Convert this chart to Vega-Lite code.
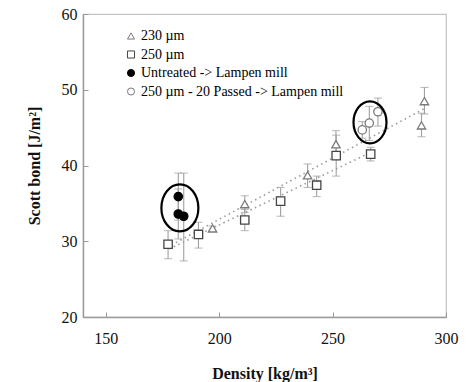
{
  "$schema": "https://vega.github.io/schema/vega-lite/v6.json",
  "width": 363,
  "height": 303,
  "autosize": {"type": "none"},
  "padding": {"left": 83, "top": 14, "right": 27, "bottom": 65},
  "background": "white",
  "config": {
    "font": "Liberation Serif",
    "view": {"stroke": "#c4c4c4", "strokeWidth": 1.2},
    "axis": {
      "labelFont": "Liberation Serif",
      "labelFontSize": 16,
      "labelColor": "#111",
      "titleFont": "Liberation Serif",
      "titleFontSize": 16,
      "titleFontWeight": "bold",
      "titleColor": "#111",
      "domainColor": "#9a9a9a",
      "domainWidth": 1.4,
      "tickColor": "#9a9a9a",
      "tickSize": -5,
      "grid": false
    },
    "axisX": {"labelPadding": 18, "labelFlush": false, "titlePadding": 19, "labelFont": "Liberation Serif"},
    "axisY": {"labelPadding": 11, "titlePadding": 19, "labelFont": "Liberation Serif"},
    "legend": {
      "orient": "none",
      "legendX": 41,
      "legendY": 15,
      "padding": 0,
      "labelFont": "Liberation Serif",
      "labelFontSize": 14,
      "labelColor": "#000",
      "labelOffset": 3,
      "labelLimit": 400,
      "rowPadding": 4.5,
      "symbolSize": 50,
      "symbolStrokeWidth": 1
    }
  },
  "datasets": {
    "points": [
      {"series": "230 µm", "density": 197.1, "bond": 31.7, "lo": 31.4, "hi": 32.0},
      {"series": "230 µm", "density": 211.3, "bond": 34.9, "lo": 33.8, "hi": 36.0},
      {"series": "230 µm", "density": 239.0, "bond": 38.7, "lo": 37.1, "hi": 40.2},
      {"series": "230 µm", "density": 251.5, "bond": 42.8, "lo": 41.0, "hi": 44.6},
      {"series": "230 µm", "density": 290.5, "bond": 48.5, "lo": 46.8, "hi": 50.3},
      {"series": "230 µm", "density": 289.2, "bond": 45.3, "lo": 43.8, "hi": 46.9},
      {"series": "250 µm", "density": 177.5, "bond": 29.6, "lo": 27.7, "hi": 31.4},
      {"series": "250 µm", "density": 190.9, "bond": 30.9, "lo": 29.1, "hi": 32.5},
      {"series": "250 µm", "density": 211.3, "bond": 32.8, "lo": 31.4, "hi": 34.2},
      {"series": "250 µm", "density": 227.1, "bond": 35.3, "lo": 33.3, "hi": 37.1},
      {"series": "250 µm", "density": 243.0, "bond": 37.4, "lo": 35.9, "hi": 38.6},
      {"series": "250 µm", "density": 251.6, "bond": 41.3, "lo": 38.6, "hi": 44.0},
      {"series": "250 µm", "density": 266.8, "bond": 41.5, "lo": 40.6, "hi": 42.4},
      {"series": "Untreated -> Lampen mill", "density": 182.0, "bond": 35.9, "lo": 32.8, "hi": 39.0},
      {"series": "Untreated -> Lampen mill", "density": 182.0, "bond": 33.6, "lo": 30.3, "hi": 36.9},
      {"series": "Untreated -> Lampen mill", "density": 184.4, "bond": 33.3, "lo": 27.4, "hi": 39.0},
      {"series": "250 µm - 20 Passed -> Lampen mill", "density": 263.1, "bond": 44.7, "lo": 43.6, "hi": 45.8},
      {"series": "250 µm - 20 Passed -> Lampen mill", "density": 266.2, "bond": 45.6, "lo": 43.3, "hi": 47.8},
      {"series": "250 µm - 20 Passed -> Lampen mill", "density": 270.0, "bond": 47.1, "lo": 45.2, "hi": 48.9}
    ],
    "fits": [
      {"fit": "230 µm", "density": 179, "bond": 29.5},
      {"fit": "230 µm", "density": 291, "bond": 47.6},
      {"fit": "250 µm", "density": 178, "bond": 29.0},
      {"fit": "250 µm", "density": 268, "bond": 41.9}
    ],
    "ellipses": [
      {"cluster": "left", "density": 182.7, "bond": 34.4},
      {"cluster": "right", "density": 266.5, "bond": 45.7}
    ]
  },
  "layer": [
    {
      "data": {"name": "fits"},
      "mark": {"type": "line", "stroke": "#9a9a9a", "strokeWidth": 1.6, "strokeDash": [1.5, 3.5]},
      "encoding": {
        "x": {"field": "density", "type": "quantitative", "scale": {"domain": [150, 300]}, "title": "Density [kg/m³]", "axis": {"values": [150, 200, 250, 300], "labelFont": "Liberation Serif", "labelFontSize": 16}},
        "y": {"field": "bond", "type": "quantitative", "scale": {"domain": [20, 60]}, "title": "Scott bond [J/m²]", "axis": {"values": [20, 30, 40, 50, 60], "labelFont": "Liberation Serif", "labelFontSize": 16}},
        "detail": {"field": "fit"}
      }
    },
    {
      "data": {"name": "points"},
      "mark": {"type": "rule", "stroke": "#a0a0a0", "strokeWidth": 1.1},
      "encoding": {
        "x": {"field": "density", "type": "quantitative", "title": "Density [kg/m³]"},
        "y": {"field": "lo", "type": "quantitative", "title": "Scott bond [J/m²]"},
        "y2": {"field": "hi"}
      }
    },
    {
      "data": {"name": "points"},
      "mark": {"type": "tick", "orient": "horizontal", "size": 8, "thickness": 1.1, "color": "#a0a0a0"},
      "encoding": {
        "x": {"field": "density", "type": "quantitative", "title": "Density [kg/m³]"},
        "y": {"field": "hi", "type": "quantitative", "title": "Scott bond [J/m²]"}
      }
    },
    {
      "data": {"name": "points"},
      "mark": {"type": "tick", "orient": "horizontal", "size": 8, "thickness": 1.1, "color": "#a0a0a0"},
      "encoding": {
        "x": {"field": "density", "type": "quantitative", "title": "Density [kg/m³]"},
        "y": {"field": "lo", "type": "quantitative", "title": "Scott bond [J/m²]"}
      }
    },
    {
      "data": {"name": "points"},
      "mark": {"type": "point", "strokeWidth": 1.3, "opacity": 1, "fillOpacity": 1, "size": 70},
      "encoding": {
        "x": {"field": "density", "type": "quantitative", "title": "Density [kg/m³]"},
        "y": {"field": "bond", "type": "quantitative", "title": "Scott bond [J/m²]"},
        "shape": {
          "field": "series", "type": "nominal", "title": null,
          "scale": {
            "domain": ["230 µm", "250 µm", "Untreated -> Lampen mill", "250 µm - 20 Passed -> Lampen mill"],
            "range": ["triangle-up", "square", "circle", "circle"]
          }
        },
        "stroke": {
          "field": "series", "type": "nominal", "title": null,
          "scale": {
            "domain": ["230 µm", "250 µm", "Untreated -> Lampen mill", "250 µm - 20 Passed -> Lampen mill"],
            "range": ["#7a7a7a", "#444444", "#000000", "#7a7a7a"]
          }
        },
        "fill": {
          "field": "series", "type": "nominal", "title": null,
          "scale": {
            "domain": ["230 µm", "250 µm", "Untreated -> Lampen mill", "250 µm - 20 Passed -> Lampen mill"],
            "range": ["#ffffff", "#ffffff", "#000000", "#ffffff"]
          }
        }
      }
    },
    {
      "data": {"name": "ellipses"},
      "transform": [{"filter": "datum.cluster == 'left'"}],
      "mark": {"type": "point", "shape": "M0,-1A0.787,1,0,1,1,0,1A0.787,1,0,1,1,0,-1Z", "size": 2209, "filled": false, "stroke": "#000", "strokeWidth": 2.2, "opacity": 1},
      "encoding": {
        "x": {"field": "density", "type": "quantitative", "title": "Density [kg/m³]"},
        "y": {"field": "bond", "type": "quantitative", "title": "Scott bond [J/m²]"}
      }
    },
    {
      "data": {"name": "ellipses"},
      "transform": [{"filter": "datum.cluster == 'right'"}],
      "mark": {"type": "point", "shape": "M0,-0.894A0.702,0.894,0,1,1,0,0.894A0.702,0.894,0,1,1,0,-0.894Z", "size": 2209, "filled": false, "stroke": "#000", "strokeWidth": 2.2, "opacity": 1},
      "encoding": {
        "x": {"field": "density", "type": "quantitative", "title": "Density [kg/m³]"},
        "y": {"field": "bond", "type": "quantitative", "title": "Scott bond [J/m²]"}
      }
    }
  ]
}
